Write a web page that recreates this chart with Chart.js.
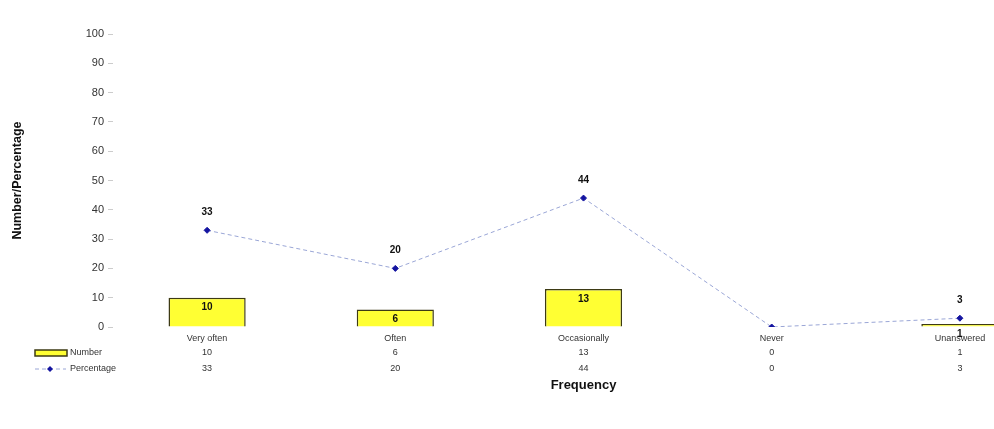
<!DOCTYPE html>
<html>
<head>
<meta charset="utf-8">
<script src="https://cdn.jsdelivr.net/npm/chart.js@4"></script>
<style>
  html, body { margin: 0; padding: 0; background: #fff; overflow: hidden; }
  #wrap { width: 1060px; height: 429px; position: relative; }
</style>
</head>
<body>
<div id="wrap"><canvas id="freq-chart"></canvas></div>
<script>
const categories = ["Very often", "Often", "Occasionally", "Never", "Unanswered"];
const numbers = [10, 6, 13, 0, 1];
const percentages = [33, 20, 44, 0, 3];
const yTicks = [0, 10, 20, 30, 40, 50, 60, 70, 80, 90, 100];

const Config = {
  colors: {
    bar: "#ffff33",
    barBorder: "#3d3a14",
    line: "#9aa6d6",
    point: "#1414a0",
    text: "#222222",
    tick: "#cccccc",
  },
  font: `"Liberation Sans", Arial, sans-serif`,
};

Chart.defaults.font.family = Config.font;
Chart.defaults.color = Config.colors.text;

// value labels on bars and points, plus the data table under the axis
const labelsPlugin = {
  id: "labels",
  afterDatasetsDraw(chart) {
    const c = chart.ctx;
    c.save();
    c.textAlign = "center";
    c.textBaseline = "middle";
    c.fillStyle = "#111";
    c.font = `bold 10px ${Config.font}`;
    chart.getDatasetMeta(0).data.forEach((bar, i) => {
      if (!numbers[i]) return;
      c.fillText(numbers[i], bar.x, bar.y + 10);
    });
    chart.getDatasetMeta(1).data.forEach((pt, i) => {
      if (!percentages[i]) return;
      c.fillText(percentages[i], pt.x, pt.y - 18);
    });
    c.restore();
  },
  afterDraw(chart) {
    const c = chart.ctx;
    const x = chart.scales.x;
    const rowNum = 353;
    const rowPct = 369;
    c.save();
    c.font = `9px ${Config.font}`;
    c.fillStyle = "#333";
    c.textBaseline = "middle";
    c.textAlign = "center";
    categories.forEach((_, i) => {
      const px = x.getPixelForValue(i);
      c.fillText(numbers[i], px, rowNum);
      c.fillText(percentages[i], px, rowPct);
    });

    // legend keys
    c.fillStyle = Config.colors.bar;
    c.strokeStyle = Config.colors.barBorder;
    c.lineWidth = 1.5;
    c.fillRect(35, rowNum - 3, 32, 6);
    c.strokeRect(35, rowNum - 3, 32, 6);
    c.strokeStyle = Config.colors.line;
    c.lineWidth = 1;
    c.setLineDash([4, 3]);
    c.beginPath();
    c.moveTo(35, rowPct);
    c.lineTo(66, rowPct);
    c.stroke();
    c.setLineDash([]);
    c.fillStyle = Config.colors.point;
    c.beginPath();
    c.moveTo(50, rowPct - 3);
    c.lineTo(53, rowPct);
    c.lineTo(50, rowPct + 3);
    c.lineTo(47, rowPct);
    c.closePath();
    c.fill();

    c.fillStyle = "#333";
    c.textAlign = "left";
    c.fillText("Number", 70, rowNum);
    c.fillText("Percentage", 70, rowPct);
    c.restore();
  },
};

new Chart(document.getElementById("freq-chart"), {
  data: {
    labels: categories,
    datasets: [
      {
        type: "bar",
        label: "Number",
        data: numbers,
        backgroundColor: Config.colors.bar,
        borderColor: Config.colors.barBorder,
        borderWidth: 1.5,
        barPercentage: 0.41,
        categoryPercentage: 1,
        order: 2,
      },
      {
        type: "line",
        label: "Percentage",
        data: percentages,
        borderColor: Config.colors.line,
        borderWidth: 1,
        borderDash: [4, 3],
        pointStyle: "rectRot",
        pointRadius: 3,
        pointBackgroundColor: Config.colors.point,
        pointBorderColor: Config.colors.point,
        tension: 0,
        order: 1,
      },
    ],
  },
  options: {
    responsive: true,
    maintainAspectRatio: false,
    animation: false,
    layout: { padding: { top: 34, bottom: 32, left: 0, right: 6 } },
    scales: {
      x: {
        grid: { display: false },
        border: { display: false },
        ticks: {
          padding: -2,
          maxRotation: 0,
          autoSkip: false,
          color: "#333",
          font: { size: 9 },
        },
        title: {
          display: true,
          text: "Frequency",
          color: "#111",
          font: { size: 13, weight: "bold" },
          padding: { top: 0, bottom: 4 },
        },
        afterFit: (scale) => { scale.height = 70; },
      },
      y: {
        min: 0,
        max: 100,
        afterBuildTicks: (scale) => { scale.ticks = yTicks.map((v) => ({ value: v })); },
        grid: {
          drawOnChartArea: false,
          drawTicks: true,
          tickLength: 5,
          tickColor: Config.colors.tick,
        },
        border: { display: false },
        ticks: {
          padding: 4,
          color: "#333",
          font: { size: 11 },
        },
        title: {
          display: true,
          text: "Number/Percentage",
          color: "#111",
          font: { size: 12.5, weight: "bold" },
          padding: { top: 10, bottom: 0 },
        },
        afterFit: (scale) => { scale.width = 113; },
      },
    },
    plugins: {
      legend: { display: false },
      tooltip: { enabled: false },
    },
  },
  plugins: [labelsPlugin],
});
</script>
</body>
</html>
